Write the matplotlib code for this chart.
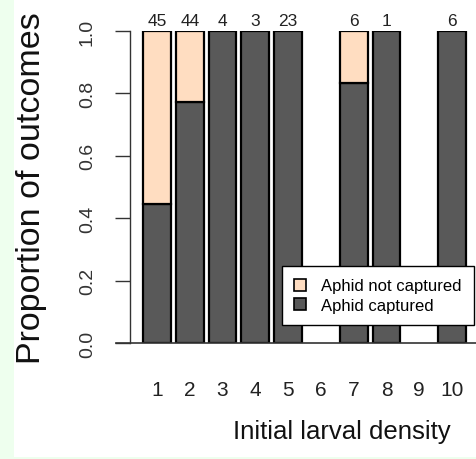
import numpy as np
import matplotlib
matplotlib.use("Agg")
import matplotlib.pyplot as plt
from matplotlib.patches import Patch, Rectangle
from matplotlib.lines import Line2D

plt.rcParams['font.family'] = ['Liberation Sans', 'DejaVu Sans']

# datos
densidad = [1, 2, 3, 4, 5, 6, 7, 8, 9, 10]
n_total = [45, 44, 4, 3, 23, 0, 6, 1, 0, 6]
n_capturados = [20, 34, 4, 3, 23, 0, 5, 1, 0, 6]

col_no = '#FFDDC1'
col_si = '#595959'

W, H = 477, 460
fig = plt.figure(figsize=(W / 100, H / 100), dpi=100)
fig.patch.set_facecolor('white')

# franja verde de la captura
fig.patches.append(Rectangle((0, 0), 14 / W, 1, transform=fig.transFigure,
                             facecolor='#EEFFEE', edgecolor='none', zorder=-10))
fig.patches.append(Rectangle((0, 0), 1, 2 / H, transform=fig.transFigure,
                             facecolor='#EEFFEE', edgecolor='none', zorder=-10))

# ejes en pixeles
ax_left, ax_right = 130, 477
y0_px, y1_px = 344, 32
ax = fig.add_axes([ax_left / W, 1 - y0_px / H, (ax_right - ax_left) / W, (y0_px - y1_px) / H])
ax.set_facecolor('none')

px_unit = (452 - 157) / 9
ax.set_xlim(1 - (157 - ax_left) / px_unit, 10 + (ax_right - 452) / px_unit)
ax.set_ylim(0, 1)

ancho = 0.85
for d, n, c in zip(densidad, n_total, n_capturados):
    if n == 0:
        continue
    p = c / n
    ax.bar(d, p, width=ancho, color=col_si, edgecolor='black', linewidth=1.6, zorder=2)
    if p < 1:
        ax.bar(d, 1 - p, bottom=p, width=ancho, color=col_no, edgecolor='black',
               linewidth=1.6, zorder=2)
    ax.text(d, 1.0 + 11 / (y0_px - y1_px), str(n), ha='center', va='center',
            fontsize=12.5, color='#222222', clip_on=False)

for s in ['top', 'right', 'bottom']:
    ax.spines[s].set_visible(False)
ax.spines['left'].set_linewidth(1.0)
ax.spines['left'].set_color('#333333')

# linea base en y=0
ax.add_line(Line2D([-(ax_left - 116) / (ax_right - ax_left), 1], [0, 0],
                   transform=ax.transAxes, color='#333333', linewidth=1.2, clip_on=False))

ax.set_yticks([0, 0.2, 0.4, 0.6, 0.8, 1.0])
ax.set_yticklabels(['0.0', '0.2', '0.4', '0.6', '0.8', '1.0'], rotation=90, va='center')
ax.tick_params(axis='y', length=10.5, width=1.0, color='#333333', pad=14,
               labelsize=14, labelcolor='#333333')

ax.set_xticks(densidad)
ax.set_xticklabels([str(d) for d in densidad])
ax.tick_params(axis='x', length=0, pad=27, labelsize=15, labelcolor='#222222')

fig.text(342 / W, 1 - 432 / H, 'Initial larval density', ha='center', va='center',
         fontsize=18.5, color='#111111')
fig.text(32 / W, 1 - 188 / H, 'Proportion of outcomes', ha='center', va='center',
         rotation=90, fontsize=24.5, color='#111111')

handles = [Patch(facecolor=col_no, edgecolor='black', linewidth=1.2),
           Patch(facecolor=col_si, edgecolor='black', linewidth=1.2)]
leg = fig.legend(handles, ['Aphid not captured', 'Aphid captured'],
                 loc='upper left', bbox_to_anchor=(282 / W, 1 - 267 / H),
                 fontsize=12, frameon=True, fancybox=False, framealpha=1,
                 handlelength=0.7, handleheight=0.7, handletextpad=0.9,
                 borderpad=0.75, labelspacing=0.25, borderaxespad=0)
leg.get_frame().set_edgecolor('black')
leg.get_frame().set_linewidth(1.0)

fig.savefig('out.png', dpi=100)
